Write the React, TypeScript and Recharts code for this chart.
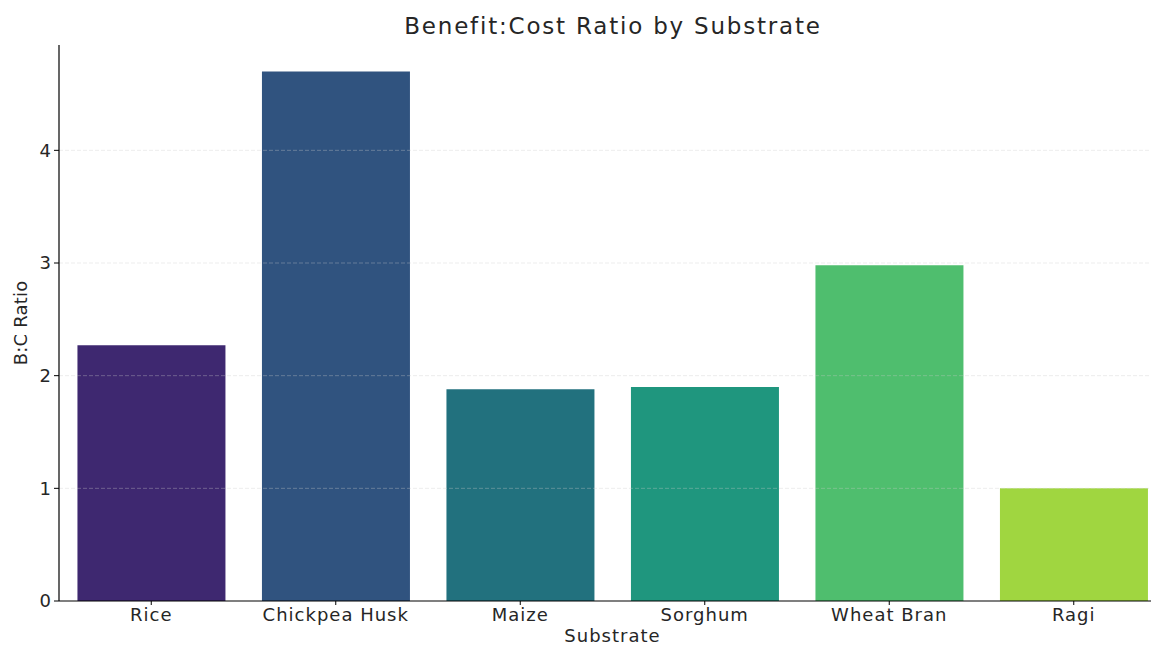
import { BarChart, Bar, XAxis, YAxis, Cell, ReferenceLine } from "recharts";

const substrates = ["Rice", "Chickpea Husk", "Maize", "Sorghum", "Wheat Bran", "Ragi"];
const bcRatio = [2.27, 4.7, 1.88, 1.9, 2.98, 1.0];
const barColors = ["#3e2870", "#30537f", "#22717e", "#1f967e", "#4fbe6e", "#a0d640"];
const yTicks = [0, 1, 2, 3, 4];

const data = substrates.map((name, i) => ({ name, ratio: bcRatio[i] }));

const FONT = "'DejaVu Sans', sans-serif";
const TEXT = "#262626";
const tickStyle = { fill: TEXT, fontSize: 18, fontFamily: FONT, letterSpacing: 1 };

export default function App() {
  return (
    <div
      style={{
        position: "fixed",
        left: 0,
        top: 0,
        width: 1151,
        height: 646,
        overflow: "hidden",
        background: "#fff",
        fontFamily: FONT,
      }}
    >
      <div
        style={{
          position: "absolute",
          left: 0,
          width: 1226,
          top: 13,
          lineHeight: "26px",
          fontSize: 23,
          letterSpacing: 1.8,
          textAlign: "center",
          color: TEXT,
          zIndex: 1,
        }}
      >
        Benefit:Cost Ratio by Substrate
      </div>
      <BarChart
        width={1166}
        height={646}
        data={data}
        margin={{ top: 45, right: 0, left: 0, bottom: 0 }}
        barCategoryGap="10%"
      >
        <XAxis
          dataKey="name"
          height={45}
          axisLine={{ stroke: "#000", strokeWidth: 1.2 }}
          tickLine={{ stroke: "#000" }}
          tickSize={4}
          tickMargin={3}
          tick={tickStyle}
          label={{
            value: "Substrate",
            position: "insideBottom",
            offset: 4,
            style: tickStyle,
          }}
        />
        <YAxis
          width={59}
          domain={[0, 4.935]}
          ticks={yTicks}
          allowDataOverflow
          axisLine={{ stroke: "#000", strokeWidth: 1.2 }}
          tickLine={{ stroke: "#000" }}
          tickSize={5}
          tickMargin={2}
          tick={tickStyle}
          label={{
            value: "B:C Ratio",
            angle: -90,
            position: "insideLeft",
            offset: 21,
            style: { ...tickStyle, letterSpacing: 0.2, textAnchor: "middle" },
          }}
        />
        <Bar dataKey="ratio" isAnimationActive={false}>
          {data.map((d, i) => (
            <Cell key={d.name} fill={barColors[i]} />
          ))}
        </Bar>
        {yTicks
          .filter((t) => t > 0)
          .map((t) => (
            <ReferenceLine
              key={t}
              y={t}
              stroke="#cccccc"
              strokeOpacity={0.35}
              strokeDasharray="4 2"
            />
          ))}
      </BarChart>
    </div>
  );
}
